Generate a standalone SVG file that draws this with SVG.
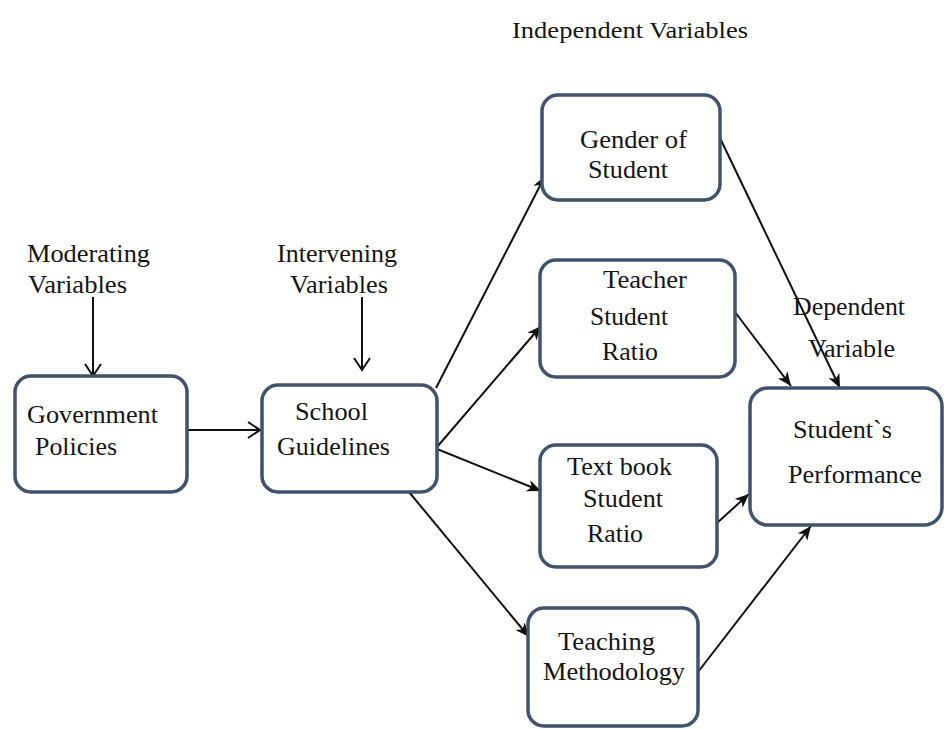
<svg xmlns="http://www.w3.org/2000/svg" width="946" height="729" viewBox="0 0 946 729">
<style>
.box{fill:#fff;stroke:#3f536e;stroke-width:3.5}
.t{font-family:"Liberation Serif","Times New Roman",serif;font-size:26px;fill:#151515}
.c{stroke:#111;stroke-width:2;fill:none}
</style>
<defs>
<marker id="fa" markerUnits="userSpaceOnUse" markerWidth="16" markerHeight="14" refX="14" refY="6" orient="auto">
<path d="M0,0 L14,6 L0,12 L4,6 Z" fill="#111"/>
</marker>
<marker id="oa" markerUnits="userSpaceOnUse" markerWidth="16" markerHeight="20" refX="14" refY="9" orient="auto">
<path d="M2,1 L14,9 L2,17" fill="none" stroke="#111" stroke-width="2"/>
</marker>
</defs>
<rect width="946" height="729" fill="#fff"/>
<g id="labels">
<text class="t" x="512" y="38" textLength="236" lengthAdjust="spacingAndGlyphs" style="font-size:23px">Independent Variables</text>
<text class="t" x="27" y="262" textLength="123" lengthAdjust="spacingAndGlyphs">Moderating</text>
<text class="t" x="28" y="293" textLength="99" lengthAdjust="spacingAndGlyphs">Variables</text>
<text class="t" x="277" y="262" textLength="120" lengthAdjust="spacingAndGlyphs">Intervening</text>
<text class="t" x="290" y="293" textLength="98" lengthAdjust="spacingAndGlyphs">Variables</text>
<text class="t" x="793" y="315" textLength="112" lengthAdjust="spacingAndGlyphs">Dependent</text>
<text class="t" x="808" y="357" textLength="87" lengthAdjust="spacingAndGlyphs">Variable</text>
</g>
<g id="connectors">
<line class="c" x1="93" y1="297" x2="93" y2="376" marker-end="url(#oa)"/>
<line class="c" x1="362" y1="297" x2="362" y2="370" marker-end="url(#oa)"/>
<line class="c" x1="187" y1="430" x2="260" y2="430" marker-end="url(#oa)"/>
<line class="c" x1="436" y1="388" x2="545" y2="176" marker-end="url(#fa)"/>
<line class="c" x1="437" y1="447" x2="541" y2="326" marker-end="url(#fa)"/>
<line class="c" x1="437" y1="449" x2="541" y2="491" marker-end="url(#fa)"/>
<line class="c" x1="409" y1="492" x2="529" y2="637" marker-end="url(#fa)"/>
<line class="c" x1="720" y1="138" x2="840" y2="388" marker-end="url(#fa)"/>
<line class="c" x1="735" y1="312" x2="791" y2="386" marker-end="url(#fa)"/>
<line class="c" x1="717" y1="523" x2="749" y2="494" marker-end="url(#fa)"/>
<line class="c" x1="698" y1="672" x2="811" y2="526" marker-end="url(#fa)"/>
</g>
<g id="government">
<rect class="box" x="15" y="376" width="172" height="116" rx="16"/>
<text class="t" x="27" y="423" textLength="131" lengthAdjust="spacingAndGlyphs">Government</text>
<text class="t" x="35" y="455" textLength="82" lengthAdjust="spacingAndGlyphs">Policies</text>
</g>
<g id="school">
<rect class="box" x="262" y="385" width="175" height="107" rx="16"/>
<text class="t" x="295" y="420" textLength="73" lengthAdjust="spacingAndGlyphs">School</text>
<text class="t" x="277" y="455" textLength="113" lengthAdjust="spacingAndGlyphs">Guidelines</text>
</g>
<g id="gender">
<rect class="box" x="542" y="95" width="178" height="105" rx="16"/>
<text class="t" x="580" y="148" textLength="107" lengthAdjust="spacingAndGlyphs">Gender of</text>
<text class="t" x="588" y="178" textLength="80" lengthAdjust="spacingAndGlyphs">Student</text>
</g>
<g id="teacher">
<rect class="box" x="540" y="260" width="195" height="117" rx="16"/>
<text class="t" x="603" y="288" textLength="84" lengthAdjust="spacingAndGlyphs">Teacher</text>
<text class="t" x="590" y="325" textLength="78" lengthAdjust="spacingAndGlyphs">Student</text>
<text class="t" x="602" y="360" textLength="56" lengthAdjust="spacingAndGlyphs">Ratio</text>
</g>
<g id="textbook">
<rect class="box" x="540" y="445" width="177" height="122" rx="16"/>
<text class="t" x="567" y="475" textLength="105" lengthAdjust="spacingAndGlyphs">Text book</text>
<text class="t" x="583" y="507" textLength="80" lengthAdjust="spacingAndGlyphs">Student</text>
<text class="t" x="587" y="542" textLength="56" lengthAdjust="spacingAndGlyphs">Ratio</text>
</g>
<g id="teaching">
<rect class="box" x="528" y="608" width="170" height="118" rx="16"/>
<text class="t" x="558" y="650" textLength="97" lengthAdjust="spacingAndGlyphs">Teaching</text>
<text class="t" x="543" y="680" textLength="142" lengthAdjust="spacingAndGlyphs">Methodology</text>
</g>
<g id="performance">
<rect class="box" x="750" y="388" width="192" height="137" rx="18"/>
<text class="t" x="793" y="438" textLength="99" lengthAdjust="spacingAndGlyphs">Student`s</text>
<text class="t" x="788" y="483" textLength="134" lengthAdjust="spacingAndGlyphs">Performance</text>
</g>
</svg>
